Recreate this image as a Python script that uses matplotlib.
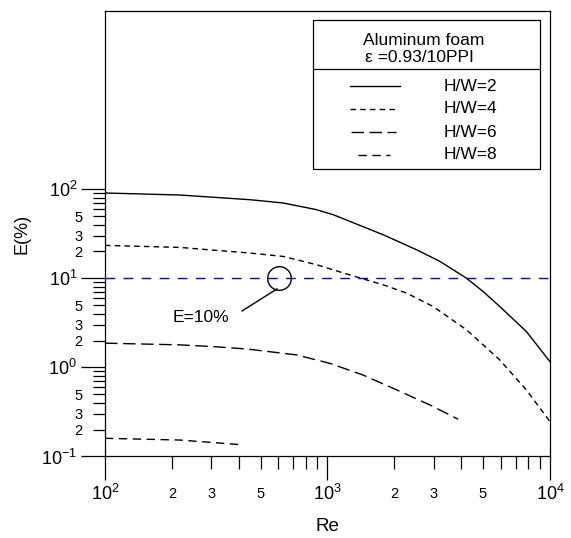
import matplotlib
matplotlib.use('Agg')
import matplotlib.pyplot as plt
import numpy as np

plt.rcParams['font.family'] = ['Liberation Sans', 'DejaVu Sans']
plt.rcParams['mathtext.default'] = 'regular'

re_hw2 = [100, 217, 448, 632, 893, 1061, 1261, 1780, 2514, 3199, 4217, 5006, 5950, 7838, 10000]
e_hw2 = [90.6, 86, 76.2, 70, 58.9, 51.7, 43.5, 30.8, 20.9, 15.5, 10, 7.1, 4.82, 2.52, 1.16]

re_hw4 = [100, 217, 448, 632, 893, 1261, 1780, 2266, 2985, 4217, 5950, 7838, 10000]
e_hw4 = [23.4, 22.2, 19.2, 17.6, 14.2, 10.9, 8.45, 6.82, 4.82, 2.64, 1.21, 0.558, 0.246]

re_hw6 = [100, 217, 307, 433, 727, 1025, 1446, 2043, 2884, 3866]
e_hw6 = [1.87, 1.79, 1.71, 1.61, 1.38, 1.11, 0.82, 0.56, 0.379, 0.262]

re_hw8 = [100, 217, 404]
e_hw8 = [0.16, 0.153, 0.136]

labels = ['H/W=2', 'H/W=4', 'H/W=6', 'H/W=8']
e_limit = 10
circle_re = 605
note_re, note_e = 270, 3.6

fig = plt.figure(figsize=(5.71, 5.38), dpi=100)
ax = fig.add_axes([0.1839, 0.1515, 0.7793, 0.8281])

styles = [dict(ls='-'), dict(ls=(0, (4, 3))), dict(ls=(0, (9, 4))), dict(ls=(0, (6, 4)))]
series = [(re_hw2, e_hw2), (re_hw4, e_hw4), (re_hw6, e_hw6), (re_hw8, e_hw8)]
for (x, y), st in zip(series, styles):
    ax.plot(x, y, color='black', lw=1.0, solid_joinstyle='round', **st)

ax.axhline(e_limit, color='#0000ff', lw=1.0, ls=(0, (7, 6)))

# circle + leader for E=10%
ax.plot([circle_re], [e_limit], marker='o', ms=17, mfc='none', mec='black', mew=1.0)
ax.plot([593, 413], [7.6, 4.3], color='black', lw=1.0)
ax.text(note_re, note_e, 'E=10%', ha='center', va='center', fontsize=12.5)

ax.set_xscale('log')
ax.set_yscale('log')
ax.set_xlim(100, 10000)
ax.set_ylim(0.1, 10000)

xmaj = [100, 1000, 10000]
xmin = [m * d for d in (100, 1000) for m in range(2, 10)]
ax.set_xticks(xmaj)
ax.set_xticklabels(['$10^{2}$', '$10^{3}$', '$10^{4}$'], fontsize=13)
ax.set_xticks(xmin, minor=True)
ax.set_xticklabels([str(m) if m in (2, 3, 5) else '' for d in (100, 1000) for m in range(2, 10)],
                   minor=True, fontsize=10.5)

ymaj = [0.1, 1, 10, 100]
ymin = [m * d for d in (0.1, 1, 10) for m in range(2, 10)]
ax.set_yticks(ymaj)
ax.set_yticklabels(['$10^{-1}$', '$10^{0}$', '$10^{1}$', '$10^{2}$'], fontsize=13)
ax.set_yticks(ymin, minor=True)
ax.set_yticklabels([str(m) if m in (2, 3, 5) else '' for d in (0.1, 1, 10) for m in range(2, 10)],
                   minor=True, fontsize=10.5)

ax.tick_params(which='major', direction='out', length=17, width=0.9, pad=3)
ax.tick_params(which='minor', direction='out', length=9, width=0.9)
ax.tick_params(axis='x', which='minor', pad=13)
ax.tick_params(axis='y', which='minor', pad=7)
for s in ax.spines.values():
    s.set_linewidth(0.9)

ax.set_xlabel('Re', fontsize=13.5, labelpad=10)
ax.set_ylabel('E(%)', fontsize=13, labelpad=8)

# legend box
tr = ax.transAxes
ax.add_patch(plt.Rectangle((0.467, 0.645), 0.511, 0.335, transform=tr, fill=False, ec='black', lw=0.9))
ax.plot([0.467, 0.978], [0.870, 0.870], transform=tr, color='black', lw=0.9)
ax.text(0.717, 0.933, 'Aluminum foam', transform=tr, ha='center', va='center', fontsize=12.5)
ax.text(0.707, 0.8945, '\u03b5 =0.93/10PPI', transform=tr, ha='center', va='center', fontsize=12.5)
ey = [0.831, 0.780, 0.728, 0.677]
lx = [(0.551, 0.663), (0.551, 0.658), (0.553, 0.654), (0.569, 0.641)]
for yy, (x0, x1), st, lab in zip(ey, lx, styles, labels):
    ax.plot([x0, x1], [yy, yy], transform=tr, color='black', lw=1.0, **st)
    ax.text(0.760, yy, lab, transform=tr, ha='left', va='center', fontsize=12.5)

fig.savefig('out.png', dpi=100)
